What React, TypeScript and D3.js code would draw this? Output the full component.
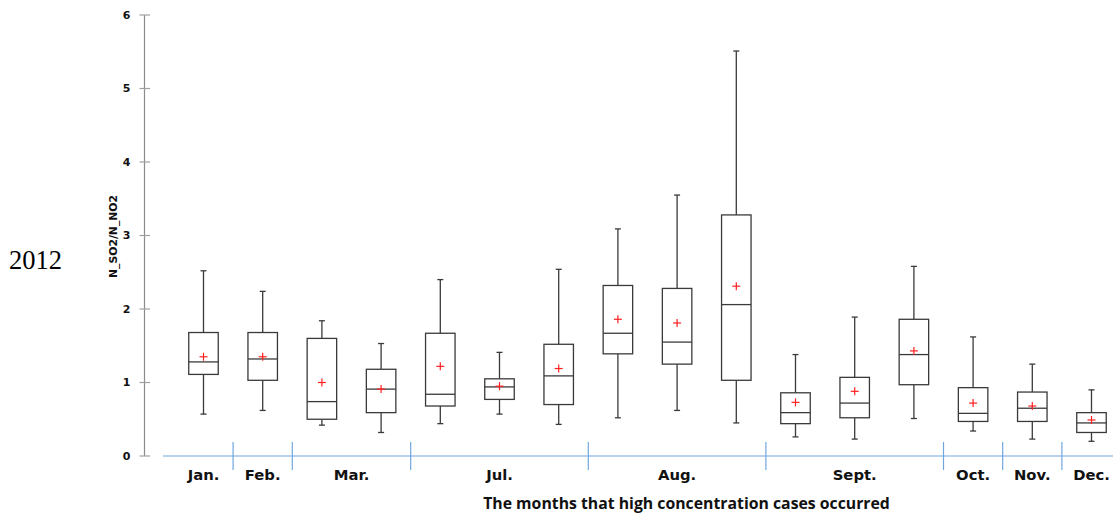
import * as d3 from 'd3';

// months shown on the x axis, and which month each box belongs to
const MONTHS = ['Jan.', 'Feb.', 'Mar.', 'Jul.', 'Aug.', 'Sept.', 'Oct.', 'Nov.', 'Dec.'];
const BOX_MONTH = [0, 1, 2, 2, 3, 3, 3, 4, 4, 4, 5, 5, 5, 6, 7, 8];

// box statistics for N_SO2/N_NO2, one per box
const WHISKER_HIGH = [2.52, 2.24, 1.84, 1.53, 2.4, 1.41, 2.54, 3.09, 3.55, 5.51, 1.38, 1.89, 2.58, 1.62, 1.25, 0.9];
const Q3 = [1.68, 1.68, 1.6, 1.18, 1.67, 1.05, 1.52, 2.32, 2.28, 3.28, 0.86, 1.07, 1.86, 0.93, 0.87, 0.59];
const MEDIAN = [1.28, 1.32, 0.74, 0.91, 0.84, 0.94, 1.09, 1.67, 1.55, 2.06, 0.59, 0.72, 1.38, 0.58, 0.65, 0.45];
const Q1 = [1.11, 1.03, 0.5, 0.59, 0.68, 0.77, 0.7, 1.39, 1.25, 1.03, 0.44, 0.52, 0.97, 0.47, 0.47, 0.32];
const WHISKER_LOW = [0.57, 0.62, 0.42, 0.32, 0.44, 0.57, 0.43, 0.52, 0.62, 0.45, 0.26, 0.23, 0.51, 0.34, 0.23, 0.2];
const MEAN = [1.35, 1.35, 1.0, 0.91, 1.22, 0.95, 1.19, 1.86, 1.81, 2.31, 0.73, 0.88, 1.43, 0.72, 0.68, 0.49];

const Y_TICKS = [0, 1, 2, 3, 4, 5, 6];

const W = 1113;
const H = 513;

export default function App() {
  const y = d3.scaleLinear().domain([0, 6]).range([456, 15]);
  const ids = d3.range(Q3.length);
  const x = d3.scalePoint<number>().domain(ids).range([203.5, 1091.5]);
  const step = x.step();
  const boxW = 29.5;
  const capW = 6;
  const axisX = 144.5;

  // group boundaries: after the last box of each month
  const separators = MONTHS.slice(0, -1).map((_, m) => {
    const last = d3.max(ids.filter((i) => BOX_MONTH[i] === m)) as number;
    return (x(last) as number) + step / 2;
  });
  const monthCenters = MONTHS.map((_, m) => d3.mean(ids.filter((i) => BOX_MONTH[i] === m).map((i) => x(i) as number)) as number);

  const boxStroke = '#3a3a3a';

  return (
    <svg width={W} height={H} style={{ position: 'absolute', left: 0, top: 0 }}>
      <rect width={W} height={H} fill="#fff" />

      <text x={9} y={269} fontFamily="'Liberation Serif', 'Times New Roman', serif" fontSize={26.5} fill="#000">
        2012
      </text>

      {/* y axis */}
      <line x1={axisX} x2={axisX} y1={y(6)} y2={y(0)} stroke="#8c8c8c" strokeWidth={1.2} />
      {Y_TICKS.map((t) => (
        <g key={t}>
          <line x1={139.5} x2={150} y1={y(t)} y2={y(t)} stroke="#a0a0a0" strokeWidth={1.2} />
          <text
            x={130.5}
            y={y(t)}
            dy="0.36em"
            textAnchor="end"
            fontFamily="'DejaVu Sans', Verdana, sans-serif"
            fontWeight="bold"
            fontSize={11}
            fill="#111"
          >
            {t}
          </text>
        </g>
      ))}
      <text
        transform={`translate(117, ${y(3) + 1}) rotate(-90)`}
        textAnchor="middle"
        fontFamily="'DejaVu Sans', Verdana, sans-serif"
        fontWeight="bold"
        fontSize={10.8}
        fill="#111"
      >
        N_SO2/N_NO2
      </text>

      {/* x axis */}
      <line x1={163} x2={W} y1={y(0)} y2={y(0)} stroke="#6fa6de" strokeWidth={1.2} />
      {separators.map((sx, i) => (
        <line key={i} x1={sx} x2={sx} y1={442} y2={470} stroke="#6fa6de" strokeWidth={1.2} />
      ))}
      {MONTHS.map((m, i) => (
        <text
          key={m}
          x={monthCenters[i]}
          y={479.5}
          textAnchor="middle"
          fontFamily="'DejaVu Sans', Verdana, sans-serif"
          fontWeight="bold"
          fontSize={14.8}
          fill="#111"
        >
          {m}
        </text>
      ))}
      <text
        x={686.5}
        y={508.5}
        textAnchor="middle"
        fontFamily="'Open Sans', sans-serif"
        fontWeight="bold"
        fontSize={15.8}
        fill="#111"
      >
        The months that high concentration cases occurred
      </text>

      {/* boxes */}
      {ids.map((i) => {
        const cx = x(i) as number;
        const mean = y(MEAN[i]);
        return (
          <g key={i}>
            <line x1={cx} x2={cx} y1={y(WHISKER_HIGH[i])} y2={y(Q3[i])} stroke={boxStroke} strokeWidth={1.3} />
            <line x1={cx} x2={cx} y1={y(Q1[i])} y2={y(WHISKER_LOW[i])} stroke={boxStroke} strokeWidth={1.3} />
            <line x1={cx - capW / 2} x2={cx + capW / 2} y1={y(WHISKER_HIGH[i])} y2={y(WHISKER_HIGH[i])} stroke={boxStroke} strokeWidth={1.3} />
            <line x1={cx - capW / 2} x2={cx + capW / 2} y1={y(WHISKER_LOW[i])} y2={y(WHISKER_LOW[i])} stroke={boxStroke} strokeWidth={1.3} />
            <rect
              x={cx - boxW / 2}
              y={y(Q3[i])}
              width={boxW}
              height={y(Q1[i]) - y(Q3[i])}
              fill="#fff"
              stroke={boxStroke}
              strokeWidth={1.3}
            />
            <line x1={cx - boxW / 2} x2={cx + boxW / 2} y1={y(MEDIAN[i])} y2={y(MEDIAN[i])} stroke={boxStroke} strokeWidth={1.3} />
            <line x1={cx - 4} x2={cx + 4} y1={mean} y2={mean} stroke="#ff2020" strokeWidth={1.2} />
            <line x1={cx} x2={cx} y1={mean - 4} y2={mean + 4} stroke="#ff2020" strokeWidth={1.2} />
          </g>
        );
      })}
    </svg>
  );
}
